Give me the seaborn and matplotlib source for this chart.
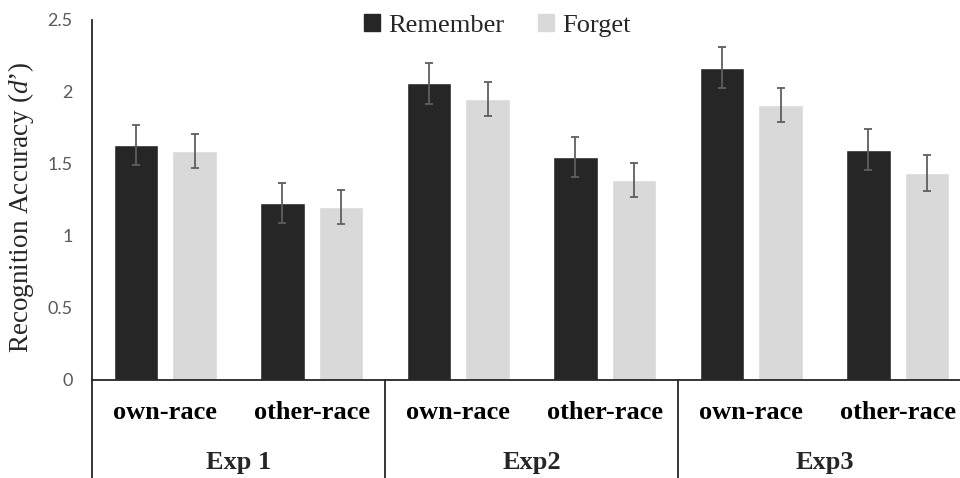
import matplotlib
matplotlib.use("Agg")
import matplotlib.pyplot as plt
import seaborn as sns
import pandas as pd

# Recognition accuracy (d') by experiment, face race and instruction
experiments = ["Exp 1", "Exp2", "Exp3"]
races = ["own-race", "other-race"]
conditions = ["Remember", "Forget"]
remember = [1.63, 1.23, 2.06, 1.55, 2.17, 1.60]
forget = [1.59, 1.20, 1.95, 1.39, 1.91, 1.44]
remember_err = [0.14, 0.14, 0.14, 0.14, 0.14, 0.145]
forget_err = [0.12, 0.12, 0.12, 0.12, 0.12, 0.125]
yticks = [0, 0.5, 1, 1.5, 2, 2.5]
ytick_labels = ["0", "0.5", "1", "1.5", "2", "2.5"]

sns.set_theme(style="white")
plt.rcParams["mathtext.fontset"] = "custom"
plt.rcParams["mathtext.it"] = "Liberation Serif:italic"
plt.rcParams["mathtext.rm"] = "Liberation Serif"

keys = [f"{e}|{r}" for e in experiments for r in races]
rows = []
for k, v in zip(keys, remember):
    rows.append({"cell": k, "cond": "Remember", "dprime": v})
for k, v in zip(keys, forget):
    rows.append({"cell": k, "cond": "Forget", "dprime": v})
df = pd.DataFrame(rows)

fig = plt.figure(figsize=(9.6, 4.78), dpi=100)
ax = fig.add_axes([92 / 960, 98 / 478, 879 / 960, 360 / 478])

palette = {"Remember": "#262626", "Forget": "#d9d9d9"}
sns.barplot(data=df, x="cell", y="dprime", hue="cond", order=keys,
            hue_order=conditions, palette=palette, width=0.8, gap=0.24,
            errorbar=None, saturation=1, legend=False, ax=ax)

# error bars on top of each bar
for cont, vals, errs in zip(ax.containers, [remember, forget], [remember_err, forget_err]):
    xs = [p.get_x() + p.get_width() / 2 for p in cont.patches]
    ax.errorbar(xs, vals, yerr=errs, fmt="none", ecolor="#5f5f5f",
                elinewidth=1.3, capsize=3.2, capthick=1.3, zorder=5)

ax.set_xlim(-0.5, 5.5)
ax.set_ylim(0, 2.5)
ax.set_yticks(yticks)
ax.set_yticklabels(ytick_labels, fontfamily="Lato", fontsize=13, color="#595959")
ax.tick_params(axis="y", length=0, pad=14)
ax.set_xticks(range(len(keys)))
ax.set_xticklabels([r for e in experiments for r in races],
                   fontfamily="Liberation Serif", fontweight="bold",
                   fontsize=19, color="black")
ax.tick_params(axis="x", length=0, pad=15)
ax.set_xlabel("")
ax.set_ylabel("Recognition Accuracy ($\\it{d\u2019}$)", fontfamily="Liberation Serif",
              fontsize=19.5, color="#262626")
ax.yaxis.set_label_coords(-0.064, 0.48)

for s in ["top", "right"]:
    ax.spines[s].set_visible(False)
ax.spines["left"].set_color("#262626")
ax.spines["left"].set_linewidth(1.3)
ax.spines["bottom"].set_color("#262626")
ax.spines["bottom"].set_linewidth(1.3)

# group separators below the axis
trans = ax.get_xaxis_transform()
for xsep in [-0.5, 1.5, 3.5]:
    ax.plot([xsep, xsep], [0, -0.28], transform=trans, color="#262626",
            lw=1.3, clip_on=False)

# experiment names under each pair
for i, e in enumerate(experiments):
    ax.text(2 * i + 0.5, -0.228, e, transform=trans, ha="center", va="center",
            fontfamily="Liberation Serif", fontweight="bold", fontsize=19)

handles = [plt.Rectangle((0, 0), 1, 1, color=palette[c]) for c in conditions]
fig.legend(handles, conditions, loc="upper center", bbox_to_anchor=(0.518, 1.02),
           ncol=2, frameon=False, handlelength=0.6, handleheight=0.6,
           handletextpad=0.3, columnspacing=1.3,
           prop={"family": "Liberation Serif", "size": 19})

fig.savefig("out.png", dpi=100)
